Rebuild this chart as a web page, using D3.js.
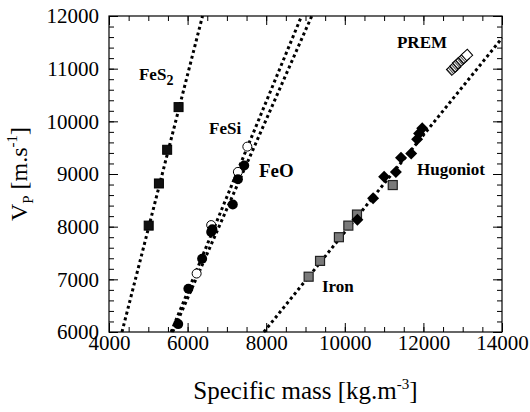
<!DOCTYPE html>
<html lang="en">
<head>
<meta charset="UTF-8">
<title>Vp vs specific mass</title>
<script src="https://d3js.org/d3.v7.min.js"></script>
<style>
  body { margin: 0; background: #fff; }
  svg { display: block; font-family: "Liberation Serif", "Times New Roman", serif; }
  .axis path { display: none; }
  .axis line { stroke: #000; stroke-width: 1; }
  .axis text { font-size: 21px; fill: #000; font-family: "Liberation Serif", serif; }
  .fit { fill: none; stroke: #000; stroke-width: 3; stroke-dasharray: 3,3; }
  .lbl { font-weight: bold; font-size: 17px; fill: #000; }
</style>
</head>
<body>
<svg width="530" height="412"></svg>
<script>
// data: [specific mass kg/m3, Vp m/s]
const fes2 = [[5010, 8020], [5270, 8820], [5480, 9460], [5770, 10270]];
const feo = [[5760, 6150], [6020, 6820], [6370, 7390], [6600, 7900], [6630, 7950],
             [7150, 8420], [7280, 8900], [7440, 9160]];
const fesi = [[6230, 7110], [6600, 8030], [7280, 9040], [7520, 9520]];
const iron = [[9080, 7050], [9370, 7350], [9850, 7800], [10090, 8020], [10310, 8230], [11220, 8790]];
const hugoniot = [[10320, 8130], [10720, 8540], [11000, 8950], [11300, 9040], [11430, 9310],
                  [11690, 9390], [11840, 9660], [11890, 9770], [11970, 9870]];
const prem = [[12730, 10980], [12810, 11040], [12880, 11100], [12960, 11150], [13030, 11200], [13110, 11260]];

// dotted fit lines
const fes2Fit = [[4330, 6000], [6380, 12000]];
const fesiFit = [[5580, 6000], [8900, 12000]];
const feoFit = [[5620, 6000], [9160, 12000]];
const ironFit = [[7940, 6000], [14000, 11580]];

const xTicks = [4000, 6000, 8000, 10000, 12000, 14000];
const yTicks = [6000, 7000, 8000, 9000, 10000, 11000, 12000];

// annotation anchors in data units
const labels = [
  {text: "FeS", sub: "2", at: [4763, 10785]},
  {text: "FeSi", at: [6545, 9760]},
  {text: "FeO", at: [7817, 8943], big: true},
  {text: "PREM", at: [11328, 11392]},
  {text: "Hugoniot", at: [11837, 8981]},
  {text: "Iron", at: [9420, 6760]}
];

const svg = d3.select("svg");
const margin = {top: 16, right: 28, bottom: 80, left: 109};
const width = 530 - margin.left - margin.right;
const height = 412 - margin.top - margin.bottom;
const g = svg.append("g").attr("transform", `translate(${margin.left},${margin.top})`);

const x = d3.scaleLinear().domain([4000, 14000]).range([0, width]);
const y = d3.scaleLinear().domain([6000, 12000]).range([height, 0]);

const fmt = d3.format("d");
const xMinor = d3.range(4000, 14001, 500);
const yMinor = d3.range(6000, 12001, 200);

// minor ticks, all four sides
g.append("g").attr("class", "axis").attr("transform", `translate(0,${height})`)
  .call(d3.axisBottom(x).tickValues(xMinor).tickSize(-5).tickFormat(""));
g.append("g").attr("class", "axis")
  .call(d3.axisTop(x).tickValues(xMinor).tickSize(-5).tickFormat(""));
g.append("g").attr("class", "axis")
  .call(d3.axisLeft(y).tickValues(yMinor).tickSize(-5).tickFormat(""));
g.append("g").attr("class", "axis").attr("transform", `translate(${width},0)`)
  .call(d3.axisRight(y).tickValues(yMinor).tickSize(-5).tickFormat(""));

// major ticks
g.append("g").attr("class", "axis").attr("transform", `translate(0,${height})`)
  .call(d3.axisBottom(x).tickValues(xTicks).tickSize(-9).tickPadding(3).tickFormat(fmt));
g.append("g").attr("class", "axis")
  .call(d3.axisTop(x).tickValues(xTicks).tickSize(-9).tickFormat(""));
g.append("g").attr("class", "axis")
  .call(d3.axisLeft(y).tickValues(yTicks).tickSize(-9).tickPadding(10).tickFormat(fmt));
g.append("g").attr("class", "axis").attr("transform", `translate(${width},0)`)
  .call(d3.axisRight(y).tickValues(yTicks).tickSize(-9).tickFormat(""));

g.append("rect").attr("width", width).attr("height", height)
  .attr("fill", "none").attr("stroke", "#000").attr("stroke-width", 1.2);

const line = d3.line().x(d => x(d[0])).y(d => y(d[1]));
[fes2Fit, fesiFit, feoFit, ironFit].forEach(f => {
  g.append("path").attr("class", "fit").attr("d", line(f));
});

// markers
g.selectAll(".fes2").data(fes2).enter().append("rect")
  .attr("x", d => x(d[0]) - 4.5).attr("y", d => y(d[1]) - 4.5)
  .attr("width", 9).attr("height", 9).attr("fill", "#111").attr("stroke", "#000");

g.selectAll(".iron").data(iron).enter().append("rect")
  .attr("x", d => x(d[0]) - 4.5).attr("y", d => y(d[1]) - 4.5)
  .attr("width", 9).attr("height", 9).attr("fill", "#7a7a7a").attr("stroke", "#222").attr("stroke-width", 1.2);

g.selectAll(".fesi").data(fesi).enter().append("circle")
  .attr("cx", d => x(d[0])).attr("cy", d => y(d[1])).attr("r", 4.5)
  .attr("fill", "#fff").attr("stroke", "#000").attr("stroke-width", 1);

g.selectAll(".feo").data(feo).enter().append("circle")
  .attr("cx", d => x(d[0])).attr("cy", d => y(d[1])).attr("r", 5)
  .attr("fill", "#000");

g.selectAll(".hug").data(hugoniot).enter().append("path")
  .attr("transform", d => `translate(${x(d[0])},${y(d[1])})`)
  .attr("d", "M0,-6L6,0L0,6L-6,0Z").attr("fill", "#000");

// PREM: hatched squares along a diagonal strip, last one open
const defs = svg.append("defs");
const pat = defs.append("pattern").attr("id", "hatch").attr("patternUnits", "userSpaceOnUse")
  .attr("width", 2).attr("height", 2);
pat.append("rect").attr("width", 2).attr("height", 2).attr("fill", "#fff");
pat.append("rect").attr("width", 1).attr("height", 2).attr("fill", "#444");

g.selectAll(".prem").data(prem).enter().append("rect")
  .attr("transform", d => `translate(${x(d[0])},${y(d[1])}) rotate(-42)`)
  .attr("x", -4).attr("y", -4).attr("width", 8).attr("height", 8)
  .attr("fill", (d, i) => i === prem.length - 1 ? "#fff" : "url(#hatch)")
  .attr("stroke", "#000").attr("stroke-width", 1);

// labels
labels.forEach(l => {
  const t = g.append("text").attr("class", "lbl")
    .attr("x", x(l.at[0])).attr("y", y(l.at[1]))
    .style("font-size", l.big ? "19px" : "17px")
    .text(l.text);
  if (l.sub) t.append("tspan").attr("dy", 5).style("font-size", "14px").text(l.sub);
});

// axis titles
const xt = svg.append("text").attr("x", margin.left + width / 2).attr("y", 399)
  .attr("text-anchor", "middle").style("font-size", "25px").text("Specific mass [kg.m");
xt.append("tspan").attr("dy", -10).style("font-size", "15px").text("-3");
xt.append("tspan").attr("dy", 10).text("]");

const yt = svg.append("text").attr("transform", "translate(27,174) rotate(-90)")
  .attr("text-anchor", "middle").style("font-size", "24px").text("V");
yt.append("tspan").attr("dy", 6).style("font-size", "15px").text("P");
yt.append("tspan").attr("dy", -6).text(" [m.s");
yt.append("tspan").attr("dy", -10).style("font-size", "15px").text("-1");
yt.append("tspan").attr("dy", 10).text("]");
</script>
</body>
</html>
